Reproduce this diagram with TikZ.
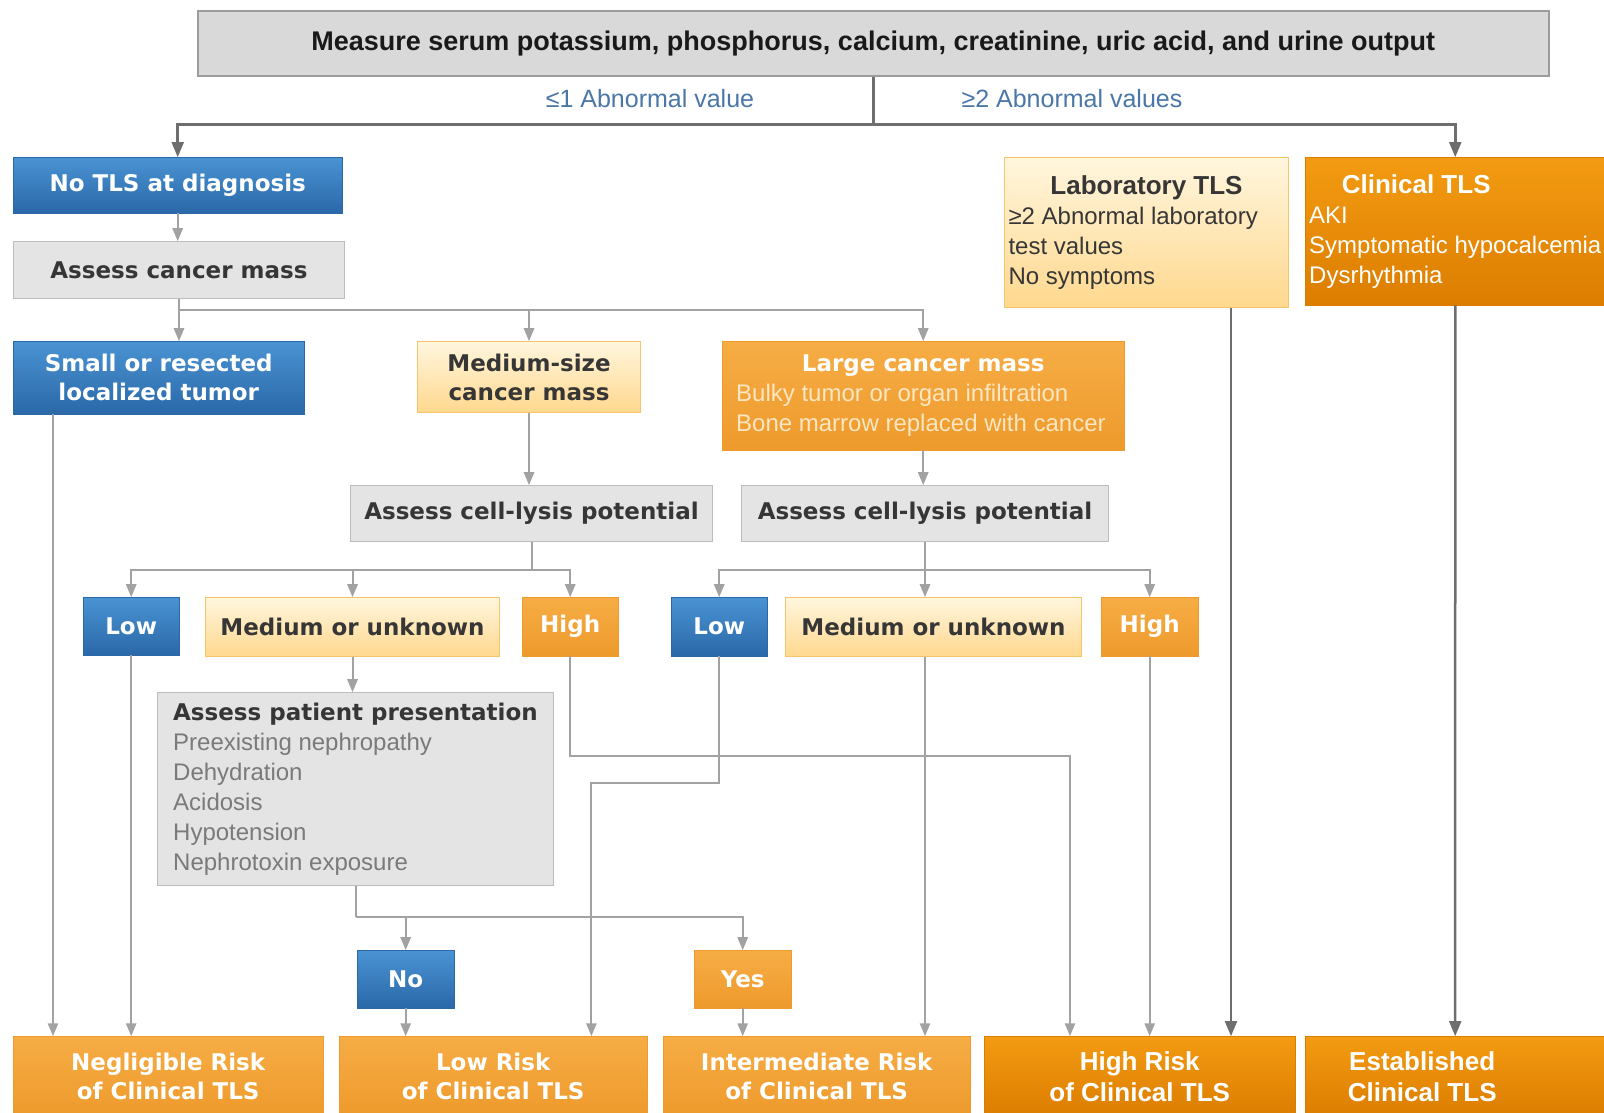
\documentclass[tikz,border=0pt]{standalone}
\usepackage{fontspec}
\setmainfont{Liberation Sans}
\newfontfamily\widefont{DejaVu Sans}
\usepackage{tikz}
\usetikzlibrary{arrows}

\definecolor{bluelt}{HTML}{4A93D3}
\definecolor{bluedk}{HTML}{2A68A8}
\definecolor{orangelt}{HTML}{F6AD45}
\definecolor{orangedk}{HTML}{EE9A2C}
\definecolor{ambertop}{HTML}{F39B12}
\definecolor{amberbot}{HTML}{DC7D00}
\definecolor{creamtop}{HTML}{FFF6DE}
\definecolor{creambot}{HTML}{FFD88E}
\definecolor{creamline}{HTML}{F5C56C}
\definecolor{greyfill}{HTML}{E4E4E4}
\definecolor{greyline}{HTML}{BDBDBD}
\definecolor{headfill}{HTML}{D9D9D9}
\definecolor{headline}{HTML}{9C9C9C}
\definecolor{inktext}{HTML}{363636}
\definecolor{softtext}{HTML}{7A7A7A}
\definecolor{notetext}{HTML}{4A76A8}
\definecolor{paletext}{HTML}{FDE6C2}
\definecolor{linedark}{HTML}{6E6E6E}
\definecolor{linelight}{HTML}{A2A2A2}

\newcommand{\hdfont}{\widefont\bfseries\fontsize{23}{29}\selectfont}
\newcommand{\txfont}{\fontsize{24}{30}\selectfont}
\newcommand{\bdfont}{\bfseries\fontsize{26}{31}\selectfont}

\begin{document}
\begin{tikzpicture}[x=1pt, y=-1pt, >=triangle 45,
  box/.style={rectangle, anchor=north west, inner sep=4pt, align=center},
  topbox/.style={box, draw=headline, line width=1.5pt, fill=headfill, text=black!90, font=\bfseries\fontsize{27}{32}\selectfont},
  bluebox/.style={box, draw=bluedk, top color=bluelt, bottom color=bluedk, text=white, font=\hdfont},
  orangebox/.style={box, draw=orangedk, top color=orangelt, bottom color=orangedk, text=white, font=\hdfont},
  amberbox/.style={box, draw=amberbot, top color=ambertop, bottom color=amberbot, text=white, font=\bdfont},
  lightbox/.style={box, draw=creamline, line width=1pt, top color=creamtop, bottom color=creambot, text=inktext, font=\hdfont},
  greybox/.style={box, draw=greyline, line width=1pt, fill=greyfill, text=inktext, font=\hdfont},
  note/.style={text=notetext, font=\fontsize{25}{30}\selectfont},
  main/.style={color=linedark, line width=2.5pt},
  link/.style={color=linelight, line width=2pt},
]
\path[use as bounding box, clip] (0,0) rectangle (1604,1112);

% first test and the two outcomes
\node[topbox, minimum width=1351, minimum height=65] (measure) at (197,10)
  {Measure serum potassium, phosphorus, calcium, creatinine, uric acid, and urine output};
\node[note] (fewab) at (650,99) {≤1 Abnormal value};
\node[note] (manyab) at (1072,99) {≥2 Abnormal values};

\node[bluebox, minimum width=329, minimum height=56] (notls) at (13,157) {No TLS at diagnosis};
\node[greybox, minimum width=331, minimum height=57] (assess) at (13,241) {Assess cancer mass};
\node[lightbox, minimum width=284, minimum height=150, align=left, font=\txfont] (lab) at (1004,157)
  {\makebox[276pt]{\bdfont Laboratory TLS}\\≥2 Abnormal laboratory\\test values\\No symptoms};
\node[amberbox, minimum width=300, minimum height=148, align=left, font=\txfont] (clin) at (1305,157)
  {\makebox[214pt]{\bdfont Clinical TLS}\\AKI\\Symptomatic hypocalcemia\\Dysrhythmia};

% cancer mass
\node[bluebox, minimum width=291, minimum height=73] (small) at (13,341) {Small or resected\\localized tumor};
\node[lightbox, minimum width=223, minimum height=71] (medsize) at (417,341) {Medium-size\\cancer mass};
\node[orangebox, minimum width=402, minimum height=109, align=left, font=\txfont, text=paletext] (large) at (722,341)
  {\makebox[374pt]{\hdfont\color{white}Large cancer mass}\\Bulky tumor or organ infiltration\\Bone marrow replaced with cancer};

\node[greybox, minimum width=362, minimum height=56] (lysisL) at (350,485) {Assess cell-lysis potential};
\node[greybox, minimum width=367, minimum height=56] (lysisR) at (741,485) {Assess cell-lysis potential};

% cell-lysis potential
\node[bluebox, minimum width=96, minimum height=58] (lowL) at (83,597) {Low};
\node[lightbox, minimum width=294, minimum height=59] (medL) at (205,597) {Medium or unknown};
\node[orangebox, minimum width=96, minimum height=59] (highL) at (522,597) {High};
\node[bluebox, minimum width=96, minimum height=59] (lowR) at (671,597) {Low};
\node[lightbox, minimum width=296, minimum height=59] (medR) at (785,597) {Medium or unknown};
\node[orangebox, minimum width=97, minimum height=59] (highR) at (1101,597) {High};

\node[greybox, minimum width=396, minimum height=193, align=left, font=\txfont, text=softtext] (patient) at (157,692)
  {{\hdfont\color{inktext}Assess patient presentation}\\Preexisting nephropathy\\Dehydration\\Acidosis\\Hypotension\\Nephrotoxin exposure};

\node[bluebox, minimum width=97, minimum height=58] (no) at (357,950) {No};
\node[orangebox, minimum width=97, minimum height=58] (yes) at (694,950) {Yes};

% risk classes
\node[orangebox, minimum width=310, minimum height=80] (negl) at (13,1036) {Negligible Risk\\of Clinical TLS};
\node[orangebox, minimum width=308, minimum height=80] (lowrisk) at (339,1036) {Low Risk\\of Clinical TLS};
\node[orangebox, minimum width=307, minimum height=80] (interm) at (663,1036) {Intermediate Risk\\of Clinical TLS};
\node[amberbox, minimum width=311, minimum height=80] (highrisk) at (984,1036) {High Risk\\of Clinical TLS};
\node[amberbox, minimum width=300, minimum height=80, inner xsep=0pt] (estab) at (1305,1036)
  {\makebox[300pt][l]{\makebox[234pt]{Established}}\\\makebox[300pt][l]{\makebox[234pt]{Clinical TLS}}};

\coordinate (smallout) at ([xshift=40]small.south west);
\coordinate (labout) at ([xshift=-58]lab.south east);

% connectors
\draw[main] (measure.south) -- ++(0,48) coordinate (split);
\draw[main,->] (split) -| (notls.north);
\draw[main,->] (split) -| (clin.north);

\path[link,->]
  (notls.south) edge (notls.south |- assess.north)
  (medsize.south) edge (medsize.south |- lysisL.north)
  (large.south) edge (large.south |- lysisR.north)
  (medL.south) edge (medL.south |- patient.north)
;
\draw[link] (assess.south) -- ++(0,11) coordinate (massfork);
\path[link,->] (massfork) edge (massfork |- small.north);
\draw[link,->] (massfork) -| (medsize.north);
\draw[link,->] (massfork) -| (large.north);

\draw[link] (lysisL.south) -- ++(0,28) coordinate (lysisLfork);
\draw[link,->] (lysisLfork) -| (lowL.north);
\draw[link,->] (lysisLfork) -| (medL.north);
\draw[link,->] (lysisLfork) -| (highL.north);

\draw[link] (lysisR.south) -- ++(0,28) coordinate (lysisRfork);
\draw[link,->] (lysisRfork) -| (lowR.north);
\path[link,->] (lysisRfork) edge (lysisRfork |- medR.north);
\draw[link,->] (lysisRfork) -| (highR.north);

\draw[link] (patient.south) -- ++(0,31) coordinate (patientfork);
\draw[link,->] (patientfork) -| (no.north);
\draw[link,->] (patientfork) -| (yes.north);

\path[link,->]
  (smallout) edge (smallout |- negl.north)
  (lowL.south) edge (lowL.south |- negl.north)
  (no.south) edge (no.south |- lowrisk.north)
  (yes.south) edge (yes.south |- interm.north)
  (lysisRfork |- medR.south) edge (lysisRfork |- interm.north)
  (highR.south) edge (highR.south |- highrisk.north)
;
\draw[link,->] (lowR.south) -- ++(0,127) -| ([xshift=-56]lowrisk.north east);
\draw[link,->] (highL.south) -- ++(0,100) -| ([xshift=86]highrisk.north west);

\path[main,->]
  (labout) edge (labout |- highrisk.north)
  (clin.south) edge (estab.north)
;
\end{tikzpicture}
\end{document}
